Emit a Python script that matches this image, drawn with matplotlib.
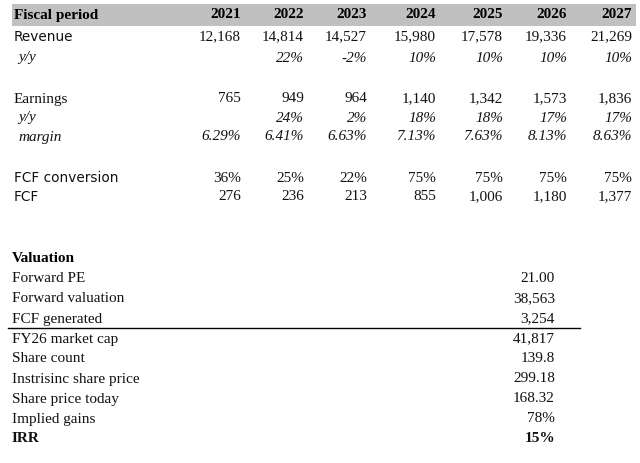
import matplotlib
matplotlib.use("Agg")
import matplotlib.pyplot as plt
from matplotlib.patches import Rectangle

years = ["2021", "2022", "2023", "2024", "2025", "2026", "2027"]
revenue = ["12,168", "14,814", "14,527", "15,980", "17,578", "19,336", "21,269"]
rev_yy = ["", "22%", "-2%", "10%", "10%", "10%", "10%"]
earnings = ["765", "949", "964", "1,140", "1,342", "1,573", "1,836"]
earn_yy = ["", "24%", "2%", "18%", "18%", "17%", "17%"]
margin = ["6.29%", "6.41%", "6.63%", "7.13%", "7.63%", "8.13%", "8.63%"]
fcf_conv = ["36%", "25%", "22%", "75%", "75%", "75%", "75%"]
fcf = ["276", "236", "213", "855", "1,006", "1,180", "1,377"]
val_labels = ["Forward PE", "Forward valuation", "FCF generated", "FY26 market cap",
              "Share count", "Instrisinc share price", "Share price today",
              "Implied gains", "IRR"]
val_values = ["21.00", "38,563", "3,254", "41,817", "139.8", "299.18", "168.32", "78%", "15%"]

fig = plt.figure(figsize=(6.4, 4.63), dpi=100)
ax = fig.add_axes([0, 0, 1, 1])
ax.set_xlim(0, 640); ax.set_ylim(463, 0); ax.axis("off")

serif = "Liberation Serif"; sans = "DejaVu Sans"
fs = 11
col_x = [241, 304, 367, 436, 503, 567, 632]
ax.add_patch(Rectangle((12, 4), 624, 22, color="#c0c0c0", lw=0))
ax.text(14, 15, "Fiscal period", fontfamily=serif, fontweight="bold", fontsize=fs, va="center")
for x, y in zip(col_x, years):
    ax.text(x, 15, y, fontfamily=serif, fontweight="bold", fontsize=fs, va="center", ha="right")

def row(y, label, vals, lfont=serif, italic=False, indent=14):
    ax.text(indent, y, label, fontfamily=lfont, fontsize=9.8 if lfont == sans else fs,
            va="center", style="italic" if italic else "normal", color="#111")
    for x, v in zip(col_x, vals):
        ax.text(x, y, v, fontfamily=serif, fontsize=fs, va="center", ha="right",
                style="italic" if italic else "normal", color="#111")

row(37, "Revenue", revenue, lfont=sans)
row(58, "y/y", rev_yy, italic=True, indent=18)
row(99, "Earnings", earnings)
row(118, "y/y", earn_yy, italic=True, indent=18)
row(137, "margin", margin, italic=True, indent=18)
row(178, "FCF conversion", fcf_conv, lfont=sans)
row(197, "FCF", fcf, lfont=sans)

ax.text(12, 259, "Valuation", fontfamily=serif, fontweight="bold", fontsize=fs, va="center")
for i, (l, v) in enumerate(zip(val_labels, val_values)):
    y = 279 + 20 * i
    bold = (l == "IRR")
    ax.text(12, y, l, fontfamily=serif, fontsize=fs, va="center",
            fontweight="bold" if bold else "normal", color="#111")
    ax.text(555, y, v, fontfamily=serif, fontsize=fs, va="center", ha="right",
            fontweight="bold" if bold else "normal", color="#111")
ax.plot([8, 580], [328, 328], color="black", lw=1)

fig.savefig("out.png", dpi=100)
